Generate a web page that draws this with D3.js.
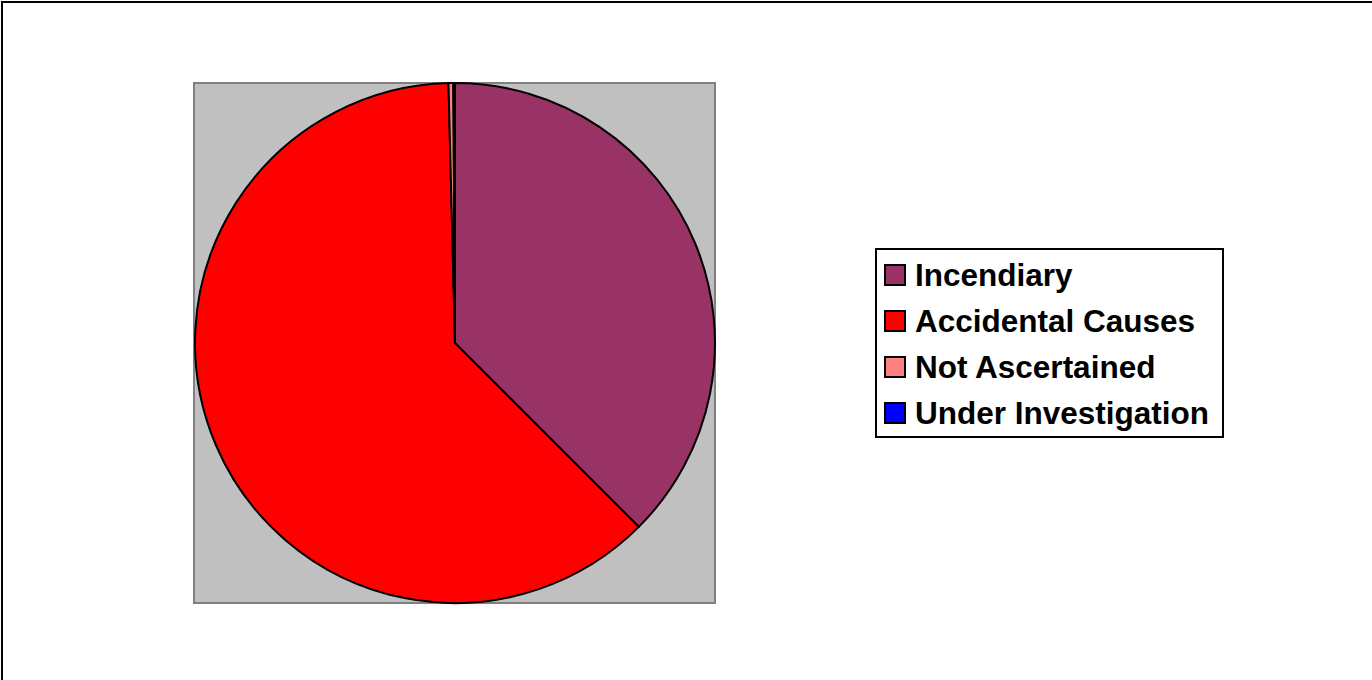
<!DOCTYPE html>
<html>
<head>
<meta charset="utf-8">
<script src="https://cdn.jsdelivr.net/npm/d3@7"></script>
<style>
  body { margin: 0; background: #fff; }
</style>
</head>
<body>
<div id="chart"></div>
<script>
// fire causes
const categories = ["Incendiary", "Accidental Causes", "Not Ascertained", "Under Investigation"];
const values = [375, 621, 3, 1];
const colors = ["#993366", "#FF0000", "#FF8080", "#0000FF"];

const width = 1372, height = 680;

const svg = d3.select("#chart").append("svg")
  .attr("width", width)
  .attr("height", height)
  .style("font-family", "Arial, 'Liberation Sans', sans-serif");

// outer chart border
svg.append("rect")
  .attr("x", 2).attr("y", 2)
  .attr("width", width + 20).attr("height", height + 20)
  .attr("fill", "#fff")
  .attr("stroke", "#000")
  .attr("stroke-width", 2);

// plot area
const plot = { x: 194, y: 83, w: 521, h: 520 };
svg.append("rect")
  .attr("x", plot.x).attr("y", plot.y)
  .attr("width", plot.w).attr("height", plot.h)
  .attr("fill", "#C0C0C0")
  .attr("stroke", "#808080")
  .attr("stroke-width", 2);

const cx = 455, cy = 343, r = 260;

const pie = d3.pie().sort(null).value(d => d);
const arc = d3.arc().innerRadius(0).outerRadius(r);

svg.append("g")
  .attr("transform", `translate(${cx},${cy})`)
  .selectAll("path")
  .data(pie(values))
  .join("path")
  .attr("d", arc)
  .attr("fill", (d, i) => colors[i])
  .attr("stroke", "#000")
  .attr("stroke-width", 2)
  .attr("stroke-linejoin", "round");

// legend
const lg = svg.append("g").attr("transform", "translate(876,249)");
lg.append("rect")
  .attr("width", 347).attr("height", 188)
  .attr("fill", "#fff")
  .attr("stroke", "#000")
  .attr("stroke-width", 2);

const rowY = d3.scalePoint().domain(categories).range([26, 164]);

const item = lg.selectAll("g.item")
  .data(categories)
  .join("g")
  .attr("class", "item")
  .attr("transform", d => `translate(0,${rowY(d)})`);

item.append("rect")
  .attr("x", 9).attr("y", -10)
  .attr("width", 20).attr("height", 20)
  .attr("fill", (d, i) => colors[i])
  .attr("stroke", "#000")
  .attr("stroke-width", 2);

item.append("text")
  .attr("x", 39)
  .attr("y", 11)
  .attr("font-size", 31.5)
  .attr("font-weight", "bold")
  .attr("fill", "#000")
  .text(d => d);
</script>
</body>
</html>
